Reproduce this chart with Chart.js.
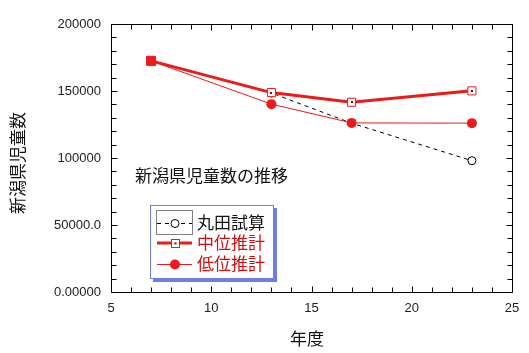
<!DOCTYPE html>
<html>
<head>
<meta charset="utf-8">
<script src="https://cdn.jsdelivr.net/npm/chart.js@4.4.0/dist/chart.umd.min.js"></script>
<style>
body { margin: 0; background: #fff; }
canvas { display: block; }
</style>
</head>
<body>
<canvas id="chart" width="529" height="353"></canvas>
<script>
// data
const years = [7, 13, 17, 23];
const marutaValues = [172500, 148500, 126000, 98000];
const middleValues = [172500, 148800, 141600, 150100];
const lowValues = [172500, 140200, 126200, 126000];
const seriesNames = ['丸田試算', '中位推計', '低位推計'];
const yTickLabels = { 0: '0.00000', 50000: '50000.0', 100000: '100000', 150000: '150000', 200000: '200000' };
const xTitle = '年度';
const yTitle = '新潟県児童数';
const noteText = '新潟県児童数の推移';

const RED = '#ec1a1a';
const JP = '"Noto Sans CJK JP", "Noto Sans", sans-serif';

function pts(vals) {
    return years.map((x, i) => ({ x: x, y: vals[i] }));
}

// frame box with inward ticks, titles, note and legend
const decorPlugin = {
    id: 'decor',
    afterDatasetsDraw(chart) {
        // small dot in middle of the open squares
        const ctx = chart.ctx;
        const meta = chart.getDatasetMeta(1);
        ctx.save();
        ctx.fillStyle = '#900';
        meta.data.forEach((p, i) => {
            if (i > 0) ctx.fillRect(Math.round(p.x) - 1, Math.round(p.y) - 1, 2, 2);
        });
        ctx.restore();
    },
    afterDraw(chart) {
        const ctx = chart.ctx, a = chart.chartArea;
        const xs = chart.scales.x, ys = chart.scales.y;
        ctx.save();
        ctx.strokeStyle = '#000';
        ctx.lineWidth = 1;
        const L = Math.round(a.left) + 0.5, R = Math.round(a.right) + 0.5;
        const T = Math.round(a.top) + 0.5, B = Math.round(a.bottom) + 0.5;
        ctx.strokeRect(L, T, R - L, B - T);
        ctx.beginPath();
        for (let v = 0; v <= 200000; v += 10000) {
            const y = Math.round(ys.getPixelForValue(v)) + 0.5;
            const len = v % 50000 === 0 ? 6 : 5;
            ctx.moveTo(L, y); ctx.lineTo(L + len, y);
            ctx.moveTo(R, y); ctx.lineTo(R - len, y);
        }
        for (let v = 5; v <= 25; v += 1) {
            const x = Math.round(xs.getPixelForValue(v)) + 0.5;
            const len = v % 5 === 0 ? 6 : 5;
            ctx.moveTo(x, B); ctx.lineTo(x, B - len);
            ctx.moveTo(x, T); ctx.lineTo(x, T + len);
        }
        ctx.stroke();

        // axis titles
        ctx.fillStyle = '#111';
        ctx.font = '17px ' + JP;
        ctx.textAlign = 'center';
        ctx.textBaseline = 'middle';
        ctx.fillText(xTitle, 307, 339);
        ctx.save();
        ctx.translate(18, 163);
        ctx.rotate(-Math.PI / 2);
        ctx.fillText(yTitle, 0, 0);
        ctx.restore();

        // note inside plot
        ctx.textAlign = 'left';
        ctx.fillText(noteText, xs.getPixelForValue(6.2), ys.getPixelForValue(86800));

        // legend box
        const bx = 150, by = 205, bw = 124, bh = 74;
        ctx.fillStyle = '#6d7fe6';
        ctx.fillRect(bx + 3, by + 3, bw, bh);
        ctx.fillStyle = '#fff';
        ctx.fillRect(bx, by, bw, bh);
        ctx.strokeStyle = '#6d7fe6';
        ctx.strokeRect(bx + 0.5, by + 0.5, bw - 1, bh - 1);

        const rows = [223, 243, 264];
        const sx0 = 157, sx1 = 192, mx = 175;
        // row 1: dashed + open circle, dotted focus box
        ctx.strokeStyle = '#000';
        ctx.setLineDash([1, 1]);
        ctx.strokeRect(156.5, 210.5, 36, 24);
        ctx.setLineDash([4, 4]);
        ctx.beginPath();
        ctx.moveTo(sx0, rows[0] + 0.5); ctx.lineTo(sx1, rows[0] + 0.5);
        ctx.stroke();
        ctx.setLineDash([]);
        ctx.beginPath();
        ctx.arc(mx, rows[0] + 0.5, 4, 0, Math.PI * 2);
        ctx.fillStyle = '#fff';
        ctx.fill();
        ctx.stroke();
        // row 2: thick red + open square
        ctx.strokeStyle = RED;
        ctx.lineWidth = 3;
        ctx.beginPath();
        ctx.moveTo(sx0, rows[1]); ctx.lineTo(sx1, rows[1]);
        ctx.stroke();
        ctx.lineWidth = 1;
        ctx.fillStyle = '#fff';
        ctx.fillRect(mx - 4, rows[1] - 4, 8, 8);
        ctx.strokeRect(mx - 3.5, rows[1] - 3.5, 8, 8);
        ctx.fillStyle = '#900';
        ctx.fillRect(mx - 0.5, rows[1] - 0.5, 2, 2);
        // row 3: thin red + filled circle
        ctx.beginPath();
        ctx.moveTo(sx0, rows[2] + 0.5); ctx.lineTo(sx1, rows[2] + 0.5);
        ctx.stroke();
        ctx.beginPath();
        ctx.arc(mx, rows[2] + 0.5, 5, 0, Math.PI * 2);
        ctx.fillStyle = RED;
        ctx.fill();

        ctx.font = '17px ' + JP;
        ctx.textAlign = 'left';
        ctx.textBaseline = 'middle';
        ctx.fillStyle = '#111';
        ctx.fillText(seriesNames[0], 197, rows[0]);
        ctx.fillStyle = '#d01010';
        ctx.fillText(seriesNames[1], 197, rows[1]);
        ctx.fillText(seriesNames[2], 197, rows[2]);
        ctx.restore();
    }
};

const tickFont = { family: '"Liberation Sans", Arial, sans-serif', size: 13 };

new Chart(document.getElementById('chart'), {
    type: 'line',
    data: {
        datasets: [
            {
                label: seriesNames[0],
                data: pts(marutaValues),
                borderColor: '#000',
                borderWidth: 1,
                borderDash: [4, 4],
                pointStyle: 'circle',
                pointRadius: [0, 4, 4, 4],
                pointBorderWidth: 1,
                pointBorderColor: '#000',
                pointBackgroundColor: '#fff',
                order: 2
            },
            {
                label: seriesNames[1],
                data: pts(middleValues),
                borderColor: RED,
                borderWidth: 3,
                pointStyle: 'rect',
                pointRadius: [6.4, 5.7, 5.7, 5.7],
                pointBorderWidth: 1,
                pointBorderColor: RED,
                pointBackgroundColor: [RED, '#fff', '#fff', '#fff'],
                order: 0
            },
            {
                label: seriesNames[2],
                data: pts(lowValues),
                borderColor: RED,
                borderWidth: 1,
                pointStyle: 'circle',
                pointRadius: [0, 5, 5, 5],
                pointBorderWidth: 0,
                pointBackgroundColor: RED,
                order: 1
            }
        ]
    },
    options: {
        responsive: false,
        animation: false,
        events: [],
        layout: { padding: { top: 24, right: 17, left: 0, bottom: 0 }, autoPadding: false },
        plugins: { legend: { display: false }, tooltip: { enabled: false } },
        scales: {
            x: {
                type: 'linear',
                min: 5, max: 25,
                ticks: { stepSize: 5, font: tickFont, color: '#222', padding: 9, maxRotation: 0 },
                grid: { display: false, drawTicks: false },
                border: { display: false },
                afterFit(scale) { scale.height = 61; }
            },
            y: {
                min: 0, max: 200000,
                ticks: {
                    stepSize: 50000, font: tickFont, color: '#222', padding: 10,
                    callback: v => yTickLabels[v]
                },
                grid: { display: false, drawTicks: false },
                border: { display: false },
                afterFit(scale) { scale.width = 111; }
            }
        }
    },
    plugins: [decorPlugin]
});
</script>
</body>
</html>
